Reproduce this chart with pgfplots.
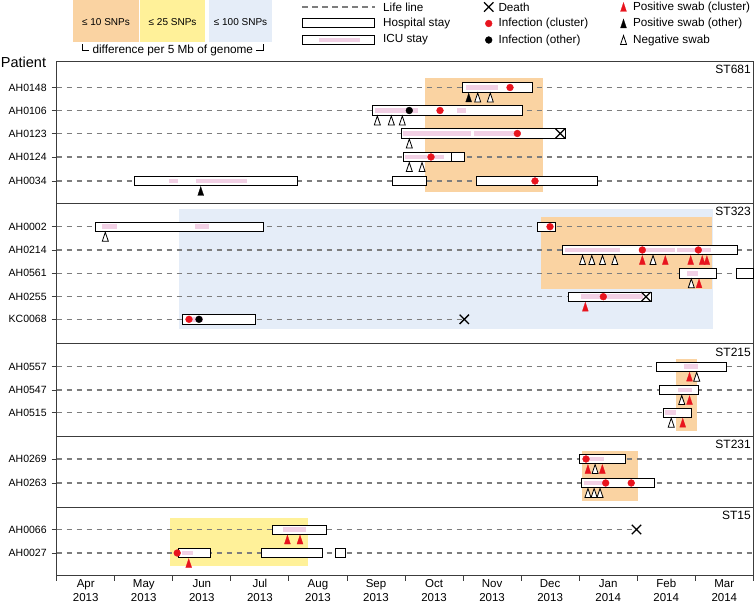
\documentclass[border=0pt]{standalone}
\usepackage{pgfplots}
\pgfplotsset{compat=1.18}
\usepackage{fontspec}
\setmainfont{Liberation Sans}
\definecolor{bgorange}{RGB}{250,211,162}
\definecolor{bgyellow}{RGB}{255,241,153}
\definecolor{bgblue}{RGB}{229,237,248}
\definecolor{icupink}{RGB}{242,208,229}
\definecolor{clred}{RGB}{232,20,30}
\definecolor{lifegray}{RGB}{125,125,125}
\definecolor{axgray}{RGB}{60,60,60}
\newcommand{\fs}[2]{\fontsize{#1}{#2}\selectfont}
\pgfplotsset{
  stay/.style={draw=black, fill=white, line width=0.8pt, forget plot},
  icu/.style={draw=icupink, line width=4.6pt, forget plot},
  life/.style={draw=lifegray, line width=1.3pt, dash pattern=on 5.5pt off 4.5pt, forget plot},
  infc/.style={only marks, mark=*, mark size=3.4pt, mark options={fill=clred, draw=clred}, forget plot},
  info/.style={only marks, mark=*, mark size=3.4pt, mark options={fill=black, draw=black}, forget plot},
  swabc/.style={only marks, mark=triangle*, mark size=6pt, mark options={xscale=0.58, fill=clred, draw=clred, line width=0.2pt}, forget plot},
  swabo/.style={only marks, mark=triangle*, mark size=6pt, mark options={xscale=0.58, fill=black, draw=black, line width=0.2pt}, forget plot},
  swabn/.style={only marks, mark=triangle*, mark size=6pt, mark options={xscale=0.58, fill=white, draw=black, line width=0.8pt}, forget plot},
  death/.style={only marks, mark=x, mark size=6.6pt, mark options={line width=1.3pt, draw=black}, forget plot},
}
\newcommand{\stay}[4]{\addplot[stay] coordinates {(#1,#3)(#2,#3)(#2,#4)(#1,#4)} --cycle;}
\newcommand{\icu}[3]{\addplot[icu] coordinates {(#1,#3)(#2,#3)};}
\newcommand{\life}[2]{\addplot[life] coordinates {(0,#2)(#1,#2)};}
\newcommand{\bgrect}[5]{\addplot[draw=none, fill=#1, forget plot] coordinates {(#2,#4)(#3,#4)(#3,#5)(#2,#5)} --cycle;}
\begin{document}
\begin{tikzpicture}
\begin{axis}[
  x=58.05pt, y=1pt, y dir=reverse,
  xmin=0, xmax=12, ymin=61, ymax=575.7,
  clip=false,
  axis line style={draw=axgray, line width=0.9pt},
  every tick/.style={draw=axgray, line width=0.9pt},
  tick align=outside, major tick length=5pt,
  xtick pos=left, ytick pos=left,
  xtick={0,...,12}, xticklabels={},
  extra x ticks={0.5,1.5,2.5,3.5,4.5,5.5,6.5,7.5,8.5,9.5,10.5,11.5},
  extra x tick labels={{Apr\\2013},{May\\2013},{Jun\\2013},{Jul\\2013},{Aug\\2013},{Sep\\2013},{Oct\\2013},{Nov\\2013},{Dec\\2013},{Jan\\2014},{Feb\\2014},{Mar\\2014}},
  extra x tick style={major tick length=0pt},
  x tick label style={align=center, font=\fs{11.5}{14.3}},
  ytick={87.5,110.5,133.5,157,181,226.7,250,273.3,296.7,319.3,366.7,390,412.7,459,483,529.5,553},
  yticklabels={AH0148,AH0106,AH0123,AH0124,AH0034,AH0002,AH0214,AH0561,AH0255,KC0068,AH0557,AH0547,AH0515,AH0269,AH0263,AH0066,AH0027},
  y tick label style={font=\fs{10.5}{12}, xshift=-1.5pt},
]
% ---- background similarity areas
\bgrect{bgblue}{2.107}{11.30}{209}{329.3}
\bgrect{bgorange}{6.345}{8.372}{78.3}{192.3}
\bgrect{bgorange}{8.338}{11.28}{216.7}{289.3}
\bgrect{bgorange}{10.668}{11.025}{359.3}{430.7}
\bgrect{bgorange}{9.042}{10.014}{450.7}{500.7}
\bgrect{bgyellow}{1.959}{4.331}{518.3}{566}
% ---- life lines
\life{12}{87.5}
\life{12}{110.5}
\life{8.675}{133.5}
\life{12}{157}
\life{12}{181}
\life{12}{226.7}
\life{12}{250}
\life{12}{273.3}
\life{10.151}{296.7}
\life{7.022}{319.3}
\life{12}{366.7}
\life{12}{390}
\life{12}{412.7}
\life{12}{459}
\life{12}{483}
\life{9.988}{529.5}
\life{12}{553}
% ---- hospital stays
\stay{6.987}{8.200}{82.9}{92.1}
\stay{5.444}{8.021}{105.9}{115.1}
\stay{5.931}{8.768}{128.9}{138.1}
\stay{5.966}{6.805}{152.4}{161.6}
\stay{6.805}{7.028}{152.4}{161.6}
\stay{1.344}{4.140}{176.4}{185.6}
\stay{5.781}{6.374}{176.4}{185.6}
\stay{7.228}{9.320}{176.4}{185.6}
\stay{0.672}{3.566}{222.1}{231.3}
\stay{8.286}{8.584}{222.1}{231.3}
\stay{8.710}{11.724}{245.4}{254.6}
\stay{10.732}{11.357}{268.7}{277.9}
\stay{11.714}{12.0}{268.7}{277.9}
\stay{8.808}{10.250}{292.1}{301.3}
\stay{2.164}{3.421}{314.7}{323.9}
\stay{10.327}{11.538}{362.1}{371.3}
\stay{10.386}{11.049}{385.4}{394.6}
\stay{10.453}{10.934}{408.1}{417.3}
\stay{9.001}{9.790}{454.4}{463.6}
\stay{9.042}{10.303}{478.4}{487.6}
\stay{3.718}{4.646}{524.9}{534.1}
\stay{2.100}{2.656}{548.4}{557.6}
\stay{3.519}{4.580}{548.4}{557.6}
\stay{4.796}{4.978}{548.4}{557.6}
% ---- ICU stays
\icu{7.056}{7.607}{87.5}
\icu{5.483}{6.219}{110.5}
\icu{6.901}{7.051}{110.5}
\icu{5.971}{7.137}{133.5}
\icu{7.189}{7.924}{133.5}
\icu{6.005}{6.672}{157}
\icu{1.940}{2.095}{181}
\icu{2.405}{3.273}{181}
\icu{0.775}{1.044}{226.7}
\icu{2.382}{2.624}{226.7}
\icu{8.756}{9.704}{250}
\icu{10.134}{10.651}{250}
\icu{10.691}{11.266}{250}
\icu{10.858}{11.042}{273.3}
\icu{9.027}{10.105}{296.7}
\icu{2.33}{2.52}{319.3}
\icu{10.801}{11.041}{366.7}
\icu{10.701}{10.949}{390}
\icu{10.479}{10.668}{412.7}
\icu{9.159}{9.432}{459}
\icu{9.084}{9.432}{483}
\icu{3.900}{4.298}{529.5}
\icu{2.159}{2.348}{553}
% ---- infections
\addplot[infc] coordinates {(7.809,87.5)(6.603,110.5)(7.935,133.5)(6.448,157)(8.239,181)
  (8.498,226.7)(10.088,250)(11.053,250)(9.416,296.7)(2.279,319.3)
  (9.118,459)(9.457,483)(9.897,483)(2.076,553)};
\addplot[info] coordinates {(6.074,110.5)(2.451,319.3)};
% ---- swabs
\addplot[swabn] coordinates {(7.252,99)(7.469,99)(5.523,122)(5.764,122)(5.953,122)(6.074,145)
  (6.074,168.5)(6.293,168.5)(0.837,238.2)(9.058,261.5)(9.218,261.5)(9.402,261.5)(9.614,261.5)
  (10.272,261.5)(10.932,284.8)(11.025,378.2)(10.767,401.5)(10.586,424.2)(9.275,470.5)
  (9.151,494.5)(9.258,494.5)(9.360,494.5)};
\addplot[swabo] coordinates {(7.097,99)(2.481,192.5)};
\addplot[swabc] coordinates {(10.088,261.5)(10.484,261.5)(10.921,261.5)(11.12,261.5)(11.20,261.5)
  (11.065,284.8)(9.106,308.2)(10.901,378.2)(10.901,401.5)(10.784,424.2)(9.151,470.5)(9.399,470.5)
  (3.974,541)(4.191,541)(2.274,564.5)};
% ---- deaths
\addplot[death] coordinates {(8.675,133.5)(10.151,296.7)(7.022,319.3)(9.988,529.5)};
% ---- panel separators and labels
\draw[axgray, line width=0.9pt] (axis cs:0,203) -- (axis cs:12,203);
\draw[axgray, line width=0.9pt] (axis cs:0,343.5) -- (axis cs:12,343.5);
\draw[axgray, line width=0.9pt] (axis cs:0,436) -- (axis cs:12,436);
\draw[axgray, line width=0.9pt] (axis cs:0,507) -- (axis cs:12,507);
\node[anchor=east, inner sep=0pt, font=\fs{12}{14}] at (axis cs:11.96,69.5) {ST681};
\node[anchor=east, inner sep=0pt, font=\fs{12}{14}] at (axis cs:11.96,211.5) {ST323};
\node[anchor=east, inner sep=0pt, font=\fs{12}{14}] at (axis cs:11.96,352.5) {ST215};
\node[anchor=east, inner sep=0pt, font=\fs{12}{14}] at (axis cs:11.96,444.5) {ST231};
\node[anchor=east, inner sep=0pt, font=\fs{12}{14}] at (axis cs:11.96,515.5) {ST15};
\node[anchor=west, inner sep=0pt, font=\fs{14.5}{16}] at (axis cs:-0.965,62) {Patient};
% ---- legend
\bgrect{bgorange}{0.284}{1.413}{0}{42.5}
\bgrect{bgyellow}{1.436}{2.555}{0}{42.5}
\bgrect{bgblue}{2.624}{3.71}{0}{42.5}
\node[font=\fs{10}{12}] at (axis cs:0.849,22) {≤ 10 SNPs};
\node[font=\fs{10}{12}] at (axis cs:1.996,22) {≤ 25 SNPs};
\node[font=\fs{10}{12}] at (axis cs:3.167,22) {≤ 100 SNPs};
\draw[black, line width=0.7pt] (axis cs:0.436,44.5) -- (axis cs:0.436,50.5) -- (axis cs:0.56,50.5);
\draw[black, line width=0.7pt] (axis cs:3.44,50.5) -- (axis cs:3.560,50.5) -- (axis cs:3.560,44.5);
\node[font=\fs{11.8}{14}] at (axis cs:2.0,50) {difference per 5 Mb of genome};
\addplot[life] coordinates {(4.233,7)(5.477,7)};
\addplot[stay] coordinates {(4.233,18.8)(5.477,18.8)(5.477,27.8)(4.233,27.8)} --cycle;
\addplot[stay] coordinates {(4.233,35.7)(5.477,35.7)(5.477,44.7)(4.233,44.7)} --cycle;
\addplot[icu] coordinates {(4.519,40.2)(5.225,40.2)};
\addplot[death] coordinates {(7.442,7)};
\addplot[infc] coordinates {(7.442,23.5)};
\addplot[info] coordinates {(7.442,40)};
\addplot[swabc] coordinates {(9.764,8.5)};
\addplot[swabo] coordinates {(9.764,25)};
\addplot[swabn] coordinates {(9.764,41.5)};
\node[anchor=west, inner sep=0pt, font=\fs{11.7}{14}] at (axis cs:5.62,7) {Life line};
\node[anchor=west, inner sep=0pt, font=\fs{11.7}{14}] at (axis cs:5.62,23.5) {Hospital stay};
\node[anchor=west, inner sep=0pt, font=\fs{11.7}{14}] at (axis cs:5.62,40) {ICU stay};
\node[anchor=west, inner sep=0pt, font=\fs{11.7}{14}] at (axis cs:7.607,7) {Death};
\node[anchor=west, inner sep=0pt, font=\fs{11.7}{14}] at (axis cs:7.607,23.5) {Infection (cluster)};
\node[anchor=west, inner sep=0pt, font=\fs{11.7}{14}] at (axis cs:7.607,40) {Infection (other)};
\node[anchor=west, inner sep=0pt, font=\fs{11.7}{14}] at (axis cs:9.925,7) {Positive swab (cluster)};
\node[anchor=west, inner sep=0pt, font=\fs{11.7}{14}] at (axis cs:9.925,23.5) {Positive swab (other)};
\node[anchor=west, inner sep=0pt, font=\fs{11.7}{14}] at (axis cs:9.925,40) {Negative swab};
\coordinate (bbA) at (axis cs:-0.977,0);
\coordinate (bbB) at (axis cs:12.029,604);
\end{axis}
\pgfresetboundingbox
\path (bbA) rectangle (bbB);
\end{tikzpicture}
\end{document}
